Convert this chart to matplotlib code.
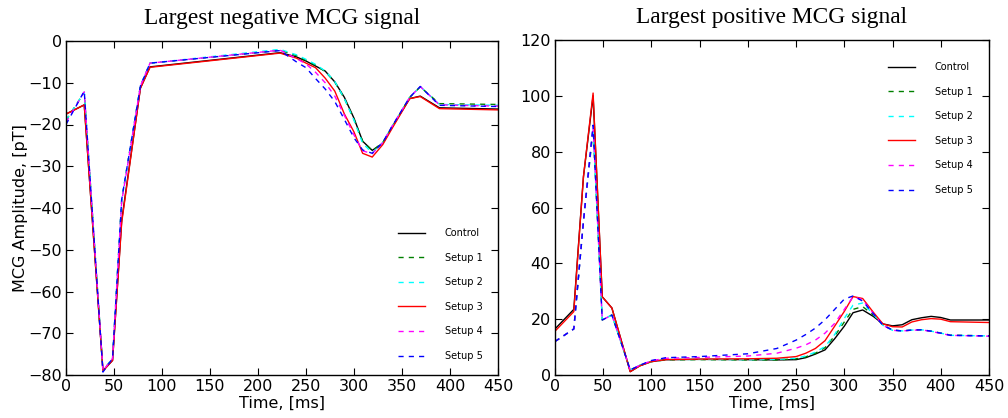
import matplotlib
matplotlib.use("Agg")
import matplotlib.pyplot as plt

# ---------------- data ----------------
labels = ["Control", "Setup 1", "Setup 2", "Setup 3", "Setup 4", "Setup 5"]

t_neg = [0, 19, 38.5, 48.5, 58, 77.5, 87.5, 223, 240, 250, 260, 270, 280, 290,
         300, 309, 319, 330, 340, 358, 369, 389, 450]
neg_control = [-17.5, -15.3, -79, -76.5, -43, -11.3, -6.2, -2.8, -3.8, -4.8, -6.0, -7.2, -9.8,
               -13.5, -18.5, -24.0, -26.2, -24.5, -20.5, -13.8, -13.2, -16.0, -16.3]
neg_setup1 = [-19, -12.3, -79, -76, -38, -10.8, -5.3, -2.2, -3.5, -4.6, -5.8, -7.3, -9.8,
              -13.8, -18.8, -24.0, -26.3, -24.3, -20.5, -13.5, -11.0, -15.0, -15.2]
neg_setup2 = [-19, -12.3, -79, -76, -38, -10.8, -5.3, -2.0, -3.3, -4.4, -5.6, -7.2, -9.7,
              -13.8, -19.0, -24.5, -26.8, -24.3, -20.3, -13.5, -10.9, -15.2, -15.4]
neg_setup3 = [-17.5, -15.3, -79, -76.5, -43.5, -11.3, -6.3, -2.9, -4.1, -5.3, -6.4, -8.9, -12.0,
              -17.5, -21.8, -26.9, -27.8, -24.8, -20.8, -13.8, -13.3, -16.2, -16.5]
neg_setup4 = [-19.5, -12.2, -79, -76, -38.5, -10.8, -5.3, -2.2, -4.2, -5.5, -7.5, -10.0, -13.2,
              -17.8, -22.5, -26.3, -27.0, -24.3, -20.3, -13.5, -10.9, -15.3, -15.6]
neg_setup5 = [-20, -12, -79.3, -76, -38, -10.8, -5.3, -2.3, -5.0, -6.4, -9.0, -11.5, -14.5,
              -18.8, -23.2, -26.1, -26.9, -24.3, -20.3, -13.5, -10.9, -15.4, -15.7]

t_pos = [0, 19.5, 29.5, 39.5, 49, 59, 78, 88, 100, 115, 150, 200, 230, 250, 260, 270, 280,
         290, 300, 309, 319, 330, 340, 350, 360, 370, 380, 390, 400, 410, 450]
pos_control = [16.5, 23.5, 71, 100, 28, 24, 1.2, 3.3, 4.8, 5.5, 5.6, 5.5, 5.4, 5.5, 6.2, 7.5, 9.0,
               13.0, 17.5, 22.3, 23.3, 21.0, 18.3, 17.6, 18.0, 19.8, 20.5, 21.0, 20.6, 19.7, 19.7]
pos_setup1 = [12, 16.5, 55, 88, 19.7, 21.5, 1.8, 3.5, 4.8, 5.4, 5.5, 5.4, 5.4, 5.8, 6.5, 7.8, 9.8,
              14.0, 19.0, 23.5, 24.5, 21.5, 17.9, 16.1, 15.8, 16.1, 16.2, 15.7, 15.0, 14.3, 14.0]
pos_setup2 = [12, 16.5, 55, 88.5, 19.7, 21.5, 1.8, 3.5, 4.8, 5.5, 5.6, 5.5, 5.6, 6.0, 6.8, 8.2, 10.2,
              14.5, 20.3, 25.0, 25.8, 21.8, 17.8, 16.0, 15.8, 16.1, 16.2, 15.7, 15.0, 14.2, 14.0]
pos_setup3 = [15.7, 22.7, 71, 101, 28, 24, 1.2, 3.3, 4.8, 5.5, 5.7, 5.8, 6.0, 6.6, 7.8, 9.5, 12.3,
              17.5, 22.8, 28.1, 27.4, 22.5, 18.3, 17.3, 17.2, 19.0, 19.8, 20.2, 20.0, 19.1, 18.8]
pos_setup4 = [12, 16.5, 55, 89, 19.7, 21.5, 1.8, 3.5, 5.1, 6.0, 6.3, 6.8, 7.8, 9.6, 10.8, 12.5, 15.0,
              18.5, 23.5, 28.0, 27.0, 22.0, 17.8, 16.0, 15.8, 16.0, 16.2, 15.6, 14.9, 14.2, 13.9]
pos_setup5 = [12, 16.5, 55, 89.5, 19.7, 21.5, 1.8, 3.5, 5.2, 6.2, 6.6, 7.6, 9.5, 12.5, 14.5, 16.8, 19.8,
              23.5, 27.2, 28.3, 26.5, 22.0, 17.8, 16.1, 15.8, 16.1, 16.2, 15.7, 15.0, 14.2, 14.0]

x_ticks = [0, 50, 100, 150, 200, 250, 300, 350, 400, 450]
neg_yticks = [0, -10, -20, -30, -40, -50, -60, -70, -80]
pos_yticks = [0, 20, 40, 60, 80, 100, 120]

# ---------------- style ----------------
colors = ["black", "green", "cyan", "red", "magenta", "blue"]
dashes = [None, (0, (3.7, 3.7)), (0, (3.7, 3.7)), None, (0, (3.7, 3.7)), (0, (3.7, 3.7))]

plt.rcParams["font.family"] = "DejaVu Sans"

fig = plt.figure(figsize=(10.08, 4.18), dpi=100)
ax1 = fig.add_axes([66 / 1008, 43 / 418, 432 / 1008, 334 / 418])
ax2 = fig.add_axes([555 / 1008, 43 / 418, 434 / 1008, 335 / 418])


def draw(ax, t, series):
    for y, c, d, lab in zip(series, colors, dashes, labels):
        ls = "-" if d is None else d
        ax.plot(t, y, color=c, linestyle=ls, linewidth=1.0, label=lab)
    ax.set_xlim(0, 450)
    ax.set_xticks(x_ticks)
    ax.tick_params(direction="in", length=5, width=0.8, top=True, right=True,
                   labelsize=11.5, pad=3)
    for s in ax.spines.values():
        s.set_linewidth(1.0)
    ax.set_xlabel("Time, [ms]", fontsize=11.5, labelpad=1)


draw(ax1, t_neg, [neg_control, neg_setup1, neg_setup2, neg_setup3, neg_setup4, neg_setup5])
ax1.set_ylim(-80, 0)
ax1.set_yticks(neg_yticks)
ax1.set_ylabel("MCG Amplitude, [pT]", fontsize=11.5, labelpad=0)
ax1.set_title("Largest negative MCG signal", family="Liberation Serif", fontsize=16.8, pad=12)

draw(ax2, t_pos, [pos_control, pos_setup1, pos_setup2, pos_setup3, pos_setup4, pos_setup5])
ax2.set_ylim(0, 120)
ax2.set_yticks(pos_yticks)
ax2.set_title("Largest positive MCG signal", family="Liberation Serif", fontsize=16.8, pad=12)

leg_kw = dict(frameon=False, fontsize=7.0, handlelength=2.8, handletextpad=2.0,
              labelspacing=1.5, borderpad=0, borderaxespad=0, loc="upper left")
ax1.legend(bbox_to_anchor=(398 / 1008, 1 - 228 / 418), bbox_transform=fig.transFigure, **leg_kw)
ax2.legend(bbox_to_anchor=(888 / 1008, 1 - 62 / 418), bbox_transform=fig.transFigure, **leg_kw)

fig.savefig("out.png", dpi=100)
